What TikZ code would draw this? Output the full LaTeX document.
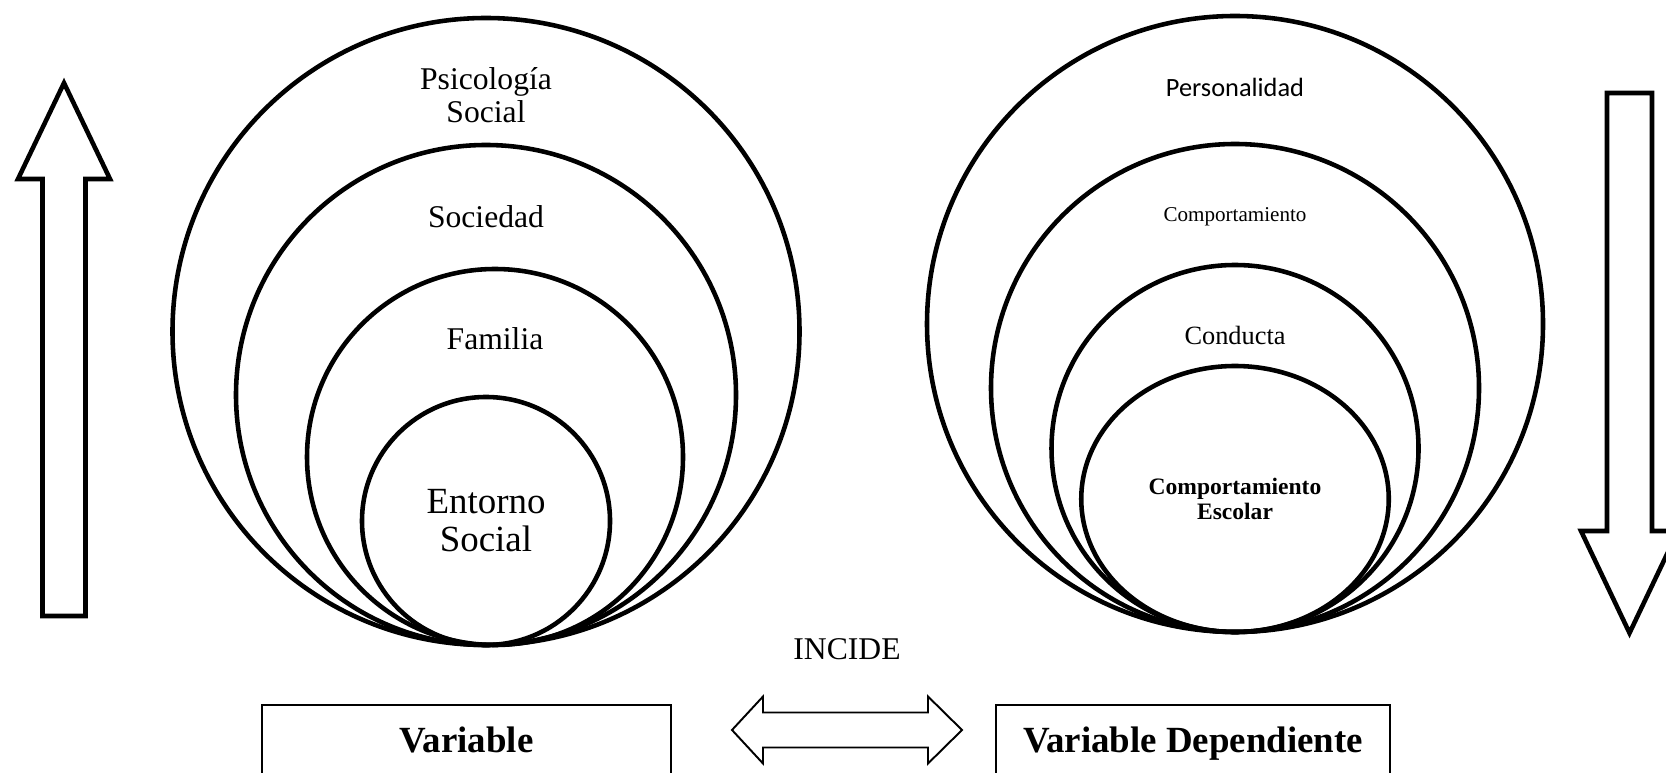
\documentclass[tikz,border=0pt]{standalone}
\usepackage{fontspec}
\setmainfont{Liberation Serif}
\newfontfamily\calibri{Carlito}
\usetikzlibrary{shapes.geometric}
\tikzstyle{ring} = [circle, draw=black, line width=2.6pt, inner sep=0pt, outer sep=0pt, anchor=south]
\tikzstyle{oval} = [ellipse, draw=black, line width=2.6pt, inner sep=0pt, outer sep=0pt, anchor=south]
\tikzstyle{lbl} = [align=center, inner sep=0pt]
\tikzstyle{varbox} = [rectangle, draw=black, line width=0.7pt, text height=0.5cm, text depth=1cm, inner xsep=0pt, inner ysep=0.44cm, outer sep=0pt, anchor=base, font=\fontsize{21}{24}\selectfont\bfseries]
\tikzstyle{bigarrow} = [draw=black, line width=2.6pt, line join=miter]
\tikzstyle{thinarrow} = [draw=black, line width=1.1pt, line join=miter]

\begin{document}
\begin{tikzpicture}
	\useasboundingbox (0,0) rectangle (33.32,15.44);
	\clip (0,0) rectangle (33.32,15.44);

	% independent side
	\node (ps) [ring, minimum size=12.54cm] at (9.72,2.54) {};
	\node (so) [ring, minimum size=10cm] at (9.72,2.54) {};
	\node (fa) [ring, minimum size=7.52cm] at (9.90,2.54) {};
	\node (en) [ring, minimum size=4.96cm, align=center, font=\fontsize{21}{21.6}\selectfont] at (9.72,2.54) {Entorno\\Social};
	\node (lps) [lbl, font=\fontsize{18}{18.8}\selectfont, yshift=-1.55cm] at (ps.north) {Psicología\\Social};
	\node (lso) [lbl, font=\fontsize{18}{20}\selectfont, yshift=-1.44cm] at (so.north) {Sociedad};
	\node (lfa) [lbl, font=\fontsize{18}{20}\selectfont, yshift=-1.40cm] at (fa.north) {Familia};

	% dependent side
	\node (pe) [ring, minimum size=12.32cm] at (24.70,2.80) {};
	\node (co) [ring, minimum size=9.76cm] at (24.70,2.80) {};
	\node (cd) [ring, minimum size=7.34cm] at (24.70,2.80) {};
	\node (ce) [oval, minimum width=6.15cm, minimum height=5.32cm, align=center, font=\fontsize{13.4}{14}\selectfont\bfseries] at (24.70,2.80) {Comportamiento\\Escolar};
	\node (lpe) [lbl, font=\calibri\fontsize{15}{17}\selectfont, yshift=-1.43cm] at (pe.north) {Personalidad};
	\node (lco) [lbl, font=\fontsize{12}{14}\selectfont, yshift=-1.45cm] at (co.north) {Comportamiento};
	\node (lcd) [lbl, font=\fontsize{15}{17}\selectfont, yshift=-1.40cm] at (cd.north) {Conducta};

	% side arrows
	\draw [bigarrow] (0.85,3.12) -- (0.85,11.86) -- (0.36,11.86) -- (1.28,13.78) -- (2.20,11.86) -- (1.71,11.86) -- (1.71,3.12) -- cycle;
	\draw [bigarrow] (32.14,13.58) -- (33.04,13.58) -- (33.04,4.82) -- (33.56,4.82) -- (32.59,2.78) -- (31.62,4.82) -- (32.14,4.82) -- cycle;

	% bottom row
	\node (inc) [lbl, font=\fontsize{18}{20}\selectfont] at (16.94,2.46) {INCIDE};
	\draw [thinarrow] (14.64,0.84) -- (15.26,1.51) -- (15.26,1.19) -- (18.56,1.19) -- (18.56,1.51) -- (19.24,0.84) -- (18.56,0.17) -- (18.56,0.49) -- (15.26,0.49) -- (15.26,0.17) -- cycle;
	\node (vi) [varbox, minimum width=8.18cm] at (9.33,0.40) {Variable};
	\node (vd) [varbox, minimum width=7.88cm] at (23.86,0.40) {Variable Dependiente};
\end{tikzpicture}
\end{document}
